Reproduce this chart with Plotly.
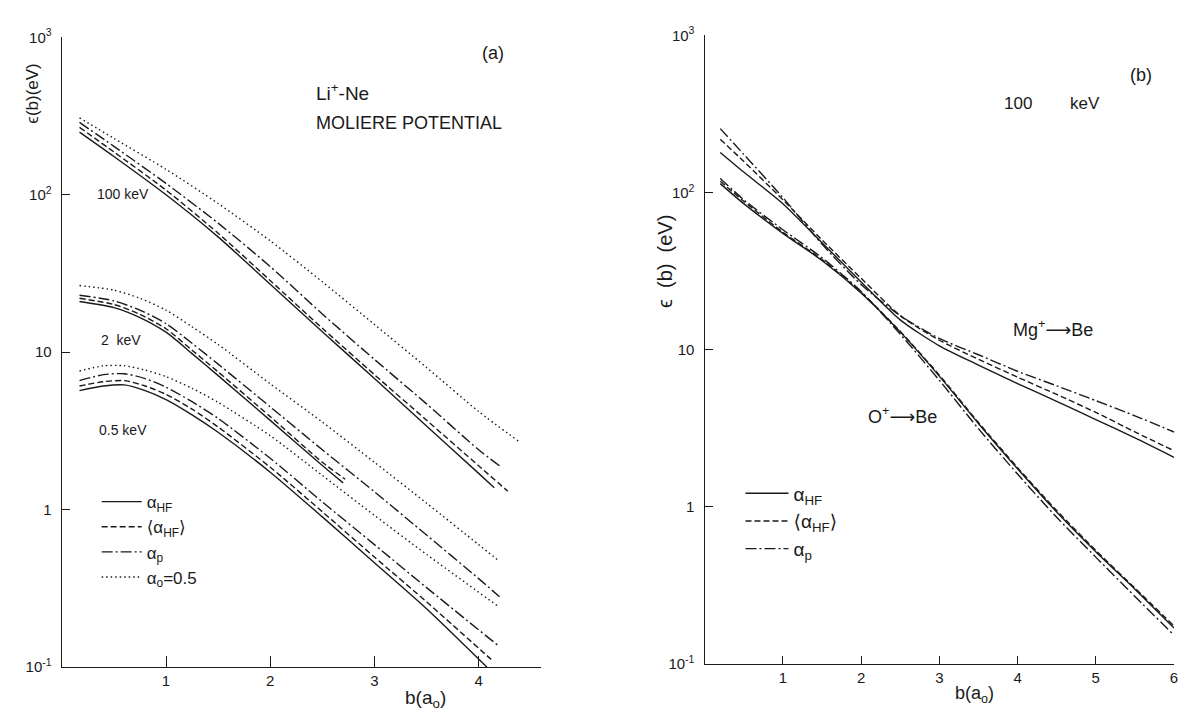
import plotly.graph_objects as go

W, H = 1184, 717

# ---------------- Panel (a): Li+ - Ne, Moliere potential ----------------
# 100 keV
a100_hf_b = [0.17, 0.5, 1.0, 1.5, 2.0, 2.5, 3.0, 3.5, 4.0, 4.15]
a100_hf = [250, 175, 100, 54, 27, 13.5, 6.8, 3.4, 1.7, 1.38]
a100_avg_b = [0.17, 0.5, 1.0, 1.5, 2.0, 2.5, 3.0, 3.5, 4.0, 4.28]
a100_avg = [268, 187, 107, 57, 28.5, 14.2, 7.2, 3.7, 1.9, 1.31]
a100_p_b = [0.17, 0.5, 1.0, 1.5, 2.0, 2.5, 3.0, 3.5, 4.0, 4.2]
a100_p = [288, 203, 118, 66, 35, 17.5, 9.0, 4.7, 2.4, 1.9]
a100_a0_b = [0.17, 0.5, 1.0, 1.5, 2.0, 2.5, 3.0, 3.5, 4.0, 4.39]
a100_a0 = [308, 228, 145, 88, 51, 28, 15, 8.0, 4.2, 2.7]

# 2 keV
a2_hf_b = [0.17, 0.5, 0.75, 1.0, 1.25, 1.5, 2.0, 2.5, 2.7]
a2_hf = [21, 19.2, 16.6, 13.4, 9.8, 7.1, 3.69, 1.91, 1.48]
a2_avg_b = [0.17, 0.5, 0.75, 1.0, 1.25, 1.5, 2.0, 2.5, 2.72]
a2_avg = [22, 20.1, 17.4, 14.1, 10.3, 7.5, 3.9, 2.0, 1.56]
a2_p_b = [0.17, 0.5, 0.75, 1.0, 1.25, 1.5, 2.0, 2.5, 3.0, 3.5, 4.0, 4.2]
a2_p = [23, 21.2, 18.5, 15.2, 11.4, 8.4, 4.5, 2.4, 1.3, 0.69, 0.365, 0.28]
a2_a0_b = [0.17, 0.5, 0.75, 1.0, 1.25, 1.5, 2.0, 2.5, 3.0, 3.5, 4.0, 4.2]
a2_a0 = [26.5, 24.8, 22, 18.5, 14.5, 11.2, 6.3, 3.6, 2.0, 1.1, 0.6, 0.47]

# 0.5 keV
a05_hf_b = [0.17, 0.4, 0.6, 0.8, 1.0, 1.25, 1.5, 2.0, 2.5, 3.0, 3.5, 4.08]
a05_hf = [5.7, 6.1, 6.2, 5.7, 5.0, 4.0, 3.1, 1.73, 0.9, 0.46, 0.235, 0.1]
a05_avg_b = [0.17, 0.4, 0.6, 0.8, 1.0, 1.25, 1.5, 2.0, 2.5, 3.0, 3.5, 4.12]
a05_avg = [6.1, 6.5, 6.6, 6.1, 5.4, 4.35, 3.35, 1.86, 0.97, 0.5, 0.26, 0.112]
a05_p_b = [0.17, 0.4, 0.6, 0.8, 1.0, 1.25, 1.5, 2.0, 2.5, 3.0, 3.5, 4.2]
a05_p = [6.6, 7.2, 7.3, 6.8, 6.0, 4.85, 3.8, 2.12, 1.12, 0.6, 0.32, 0.135]
a05_a0_b = [0.17, 0.4, 0.6, 0.8, 1.0, 1.25, 1.5, 2.0, 2.5, 3.0, 3.5, 4.2]
a05_a0 = [7.6, 8.2, 8.2, 7.7, 7.0, 5.9, 4.8, 2.95, 1.65, 0.92, 0.52, 0.24]

# ---------------- Panel (b): 100 keV ----------------
b_b = [0.2, 0.5, 1.0, 1.5, 2.0, 2.5, 3.0, 3.5, 4.0, 4.5, 5.0, 5.5, 6.0]
mg_hf = [180, 135, 85, 48, 27, 15.5, 10.6, 8.0, 6.1, 4.7, 3.6, 2.75, 2.07]
mg_avg = [218, 158, 90, 50, 28.5, 16.5, 11.5, 8.7, 6.7, 5.2, 4.0, 3.0, 2.28]
mg_p = [255, 175, 93, 47, 26, 16.5, 11.8, 9.3, 7.3, 5.9, 4.75, 3.8, 3.0]
o_hf = [114, 85, 55, 37, 23, 13, 6.8, 3.4, 1.75, 0.93, 0.52, 0.3, 0.17]
o_avg = [118, 88, 56, 37.5, 23.2, 13.1, 6.9, 3.45, 1.78, 0.95, 0.53, 0.305, 0.175]
o_p = [123, 90, 58, 38.5, 23.5, 12.6, 6.4, 3.15, 1.62, 0.86, 0.48, 0.27, 0.153]

tick_a_vals = [1, 2, 3, 4]
tick_b_vals = [1, 2, 3, 4, 5, 6]
ytick_vals = [0.1, 1, 10, 100, 1000]
ytick_text = ["10<sup>-1</sup>", "1", "10", "10<sup>2</sup>", "10<sup>3</sup>"]

legend_names = ["α<sub>HF</sub>", "⟨α<sub>HF</sub>⟩", "α<sub>p</sub>", "α<sub>o</sub>=0.5"]

INK = "#1a1a1a"
DASHES = {"hf": "solid", "avg": "6px,3px", "p": "11px,3px,2px,3px", "a0": "1.5px,3px"}
FONT = "Liberation Sans, DejaVu Sans, sans-serif"
NB = "\u00a0"


def px(x):
    return x / W


def py(y):
    return 1 - y / H


fig = go.Figure()


def add(xs, ys, kind, axis, name=None, legend=None):
    xa, ya = ("x", "y") if axis == 1 else ("x2", "y2")
    fig.add_trace(go.Scatter(
        x=xs, y=ys, mode="lines", xaxis=xa, yaxis=ya,
        line=dict(color=INK, width=1.4, dash=DASHES[kind], shape="spline", smoothing=0.7),
        name=name if name else kind, showlegend=name is not None,
        legend=legend if legend else "legend", hoverinfo="skip"))


# Panel (a)
add(a100_hf_b, a100_hf, "hf", 1, legend_names[0], "legend")
add(a100_avg_b, a100_avg, "avg", 1, legend_names[1], "legend")
add(a100_p_b, a100_p, "p", 1, legend_names[2], "legend")
add(a100_a0_b, a100_a0, "a0", 1, legend_names[3], "legend")
add(a2_hf_b, a2_hf, "hf", 1)
add(a2_avg_b, a2_avg, "avg", 1)
add(a2_p_b, a2_p, "p", 1)
add(a2_a0_b, a2_a0, "a0", 1)
add(a05_hf_b, a05_hf, "hf", 1)
add(a05_avg_b, a05_avg, "avg", 1)
add(a05_p_b, a05_p, "p", 1)
add(a05_a0_b, a05_a0, "a0", 1)

# Panel (b)
add(b_b, mg_hf, "hf", 2, legend_names[0], "legend2")
add(b_b, mg_avg, "avg", 2, legend_names[1], "legend2")
add(b_b, mg_p, "p", 2, legend_names[2], "legend2")
add(b_b, o_hf, "hf", 2)
add(b_b, o_avg, "avg", 2)
add(b_b, o_p, "p", 2)

axis_common = dict(showline=True, linecolor=INK, linewidth=1.4, showgrid=False,
                   zeroline=False, ticks="inside", tickcolor=INK, tickwidth=1.3,
                   tickfont=dict(family=FONT, size=15, color=INK), mirror=False)

fig.update_layout(
    width=W, height=H, margin=dict(l=0, r=0, t=0, b=0),
    paper_bgcolor="white", plot_bgcolor="white",
    font=dict(family=FONT, color=INK),
    xaxis=dict(domain=[px(62), px(543)], range=[0, 4.6], anchor="y",
               tickvals=tick_a_vals, ticklen=11, **axis_common),
    yaxis=dict(domain=[py(674), py(27)], type="log", range=[-1, 3], anchor="x",
               tickvals=ytick_vals, ticktext=ytick_text, ticklen=8,
               ticklabelstandoff=6, **axis_common),
    xaxis2=dict(domain=[px(707), px(1178)], range=[0, 6], anchor="y2",
                tickvals=tick_b_vals, ticklen=8, **axis_common),
    yaxis2=dict(domain=[py(671), py(25)], type="log", range=[-1, 3], anchor="x2",
                tickvals=ytick_vals, ticktext=ytick_text, ticklen=8,
                ticklabelstandoff=6, **axis_common),
    legend=dict(x=px(97), y=py(486), xanchor="left", yanchor="top",
                bgcolor="rgba(0,0,0,0)", itemwidth=40,
                font=dict(family=FONT, size=17, color=INK)),
    legend2=dict(x=px(743), y=py(476), xanchor="left", yanchor="top",
                 bgcolor="rgba(0,0,0,0)", itemwidth=43,
                 font=dict(family=FONT, size=19, color=INK)),
)

ann = [
    # panel (a)
    dict(text="(a)", x=px(495), y=py(43), size=18, xanchor="center"),
    dict(text="Li<sup>+</sup>-Ne", x=px(315), y=py(83), size=19, xanchor="left"),
    dict(text="MOLIERE" + NB + "POTENTIAL", x=px(315), y=py(115), size=18, xanchor="left"),
    dict(text="100 keV", x=px(95), y=py(188), size=14, xanchor="left"),
    dict(text="2" + NB + NB + "keV", x=px(99), y=py(338), size=14, xanchor="left"),
    dict(text="0.5" + NB + "keV", x=px(97), y=py(430), size=14, xanchor="left"),
    dict(text="b(a<sub>o</sub>)", x=px(427), y=py(707), size=19, xanchor="center"),
    # panel (b)
    dict(text="(b)", x=px(1145), y=py(66), size=18, xanchor="center"),
    dict(text="100", x=px(1021), y=py(95), size=17, xanchor="center"),
    dict(text="keV", x=px(1089), y=py(95), size=17, xanchor="center"),
    dict(text="Mg<sup>+</sup>⟶Be", x=px(1014), y=py(326), size=18, xanchor="left"),
    dict(text="O<sup>+</sup>⟶Be", x=px(869), y=py(415), size=18, xanchor="left"),
    dict(text="b(a<sub>o</sub>)", x=px(978), y=py(702), size=18, xanchor="center"),
]
for a in ann:
    fig.add_annotation(text=a["text"], x=a["x"], y=a["y"], xref="paper", yref="paper",
                       xanchor=a["xanchor"], yanchor="middle", showarrow=False,
                       font=dict(family=FONT, size=a["size"], color=INK))

# rotated y-axis titles
fig.add_annotation(text="ϵ(b)(eV)", x=px(33), y=py(85), xref="paper", yref="paper",
                   textangle=-90, showarrow=False, xanchor="center", yanchor="middle",
                   font=dict(family=FONT, size=17, color=INK))
fig.add_annotation(text="ϵ" + NB + NB + "(b)" + NB + NB + "(eV)", x=px(667), y=py(257),
                   xref="paper", yref="paper",
                   textangle=-90, showarrow=False, xanchor="center", yanchor="middle",
                   font=dict(family=FONT, size=20, color=INK))

fig.write_html("out.html")
